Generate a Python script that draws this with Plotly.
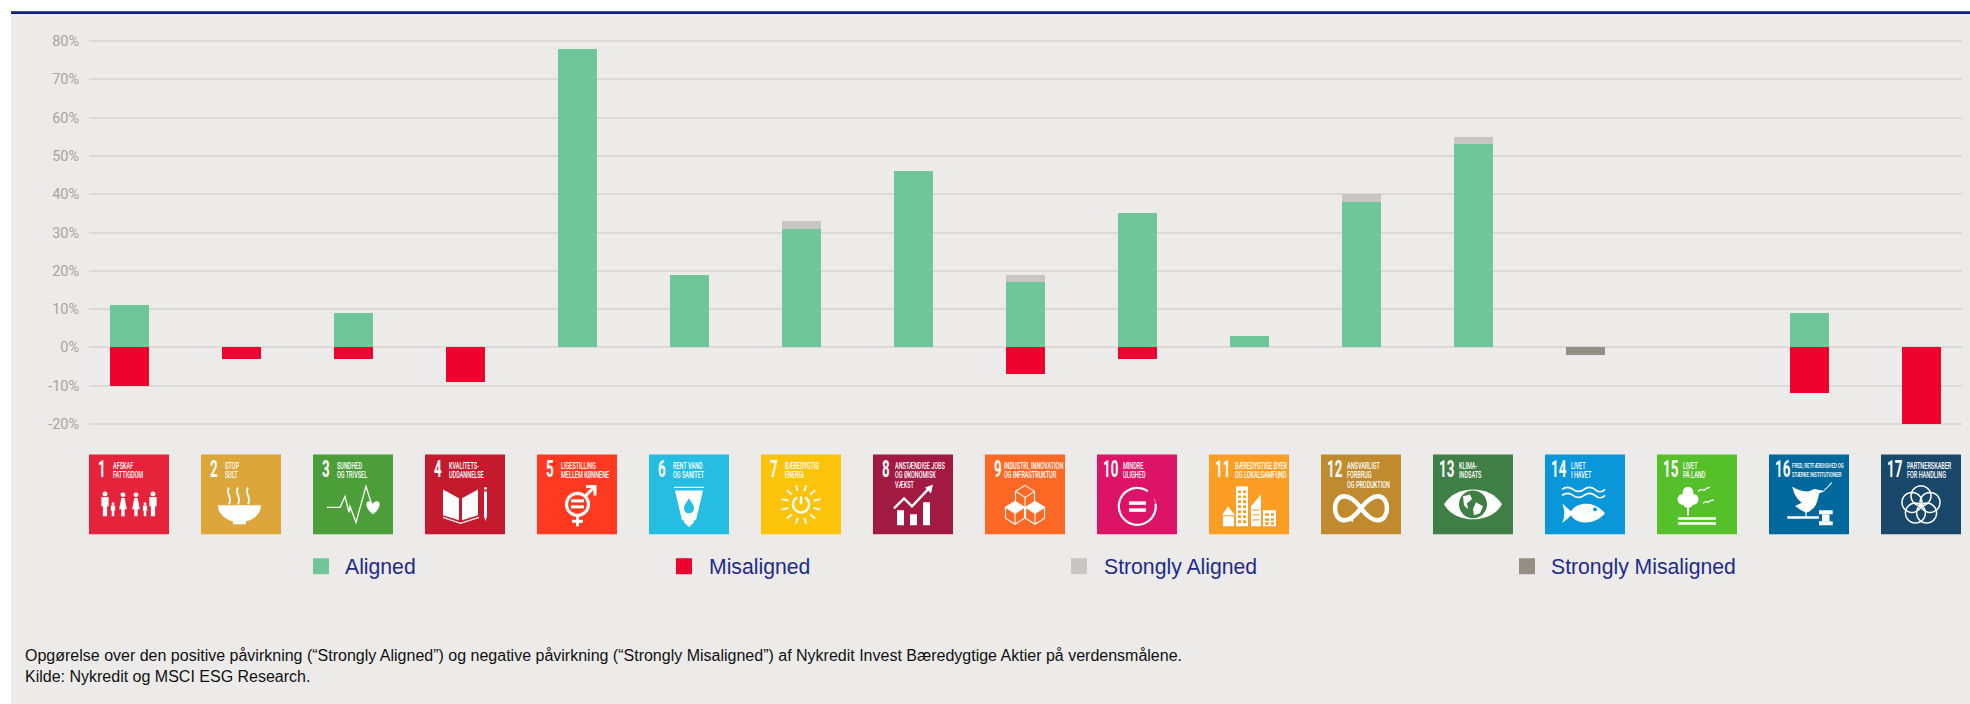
import math, re
import plotly.graph_objects as go

categories = [str(i) for i in range(1, 18)]
aligned = [11, 0, 9, 0, 78, 19, 31, 46, 17, 35, 3, 38, 53, 0, 0, 9, 0]
misaligned = [-10, -3, -3, -9, 0, 0, 0, 0, -7, -3, 0, 0, 0, 0, 0, -12, -20]
strongly_aligned = [0, 0, 0, 0, 0, 0, 2, 0, 2, 0, 0, 2, 2, 0, 0, 0, 0]
strongly_misaligned = [0, 0, 0, 0, 0, 0, 0, 0, 0, 0, 0, 0, 0, -2, 0, 0, 0]
series_names = ["Aligned", "Misaligned", "Strongly Aligned", "Strongly Misaligned"]
series_colors = ["#6FC698", "#EE0230", "#C8C6C3", "#958E85"]
tick_values = [-20, -10, 0, 10, 20, 30, 40, 50, 60, 70, 80]
tick_labels = [f"{v}%" for v in tick_values]
goal_titles = [
    ["AFSKAF", "FATTIGDOM"], ["STOP", "SULT"], ["SUNDHED", "OG TRIVSEL"],
    ["KVALITETS-", "UDDANNELSE"], ["LIGESTILLING", "MELLEM KØNNENE"], ["RENT VAND", "OG SANITET"],
    ["BÆREDYGTIG", "ENERGI"], ["ANSTÆNDIGE JOBS", "OG ØKONOMISK", "VÆKST"],
    ["INDUSTRI, INNOVATION", "OG INFRASTRUKTUR"], ["MINDRE", "ULIGHED"],
    ["BÆREDYGTIGE BYER", "OG LOKALSAMFUND"], ["ANSVARLIGT", "FORBRUG", "OG PRODUKTION"],
    ["KLIMA-", "INDSATS"], ["LIVET", "I HAVET"], ["LIVET", "PÅ LAND"],
    ["FRED, RETFÆRDIGHED OG", "STÆRKE INSTITUTIONER"], ["PARTNERSKABER", "FOR HANDLING"],
]
goal_colors = ["#E5243B", "#DDA63A", "#4C9F38", "#C5192D", "#FF3A21", "#26BDE2", "#FCC30B", "#A21942",
               "#FD6925", "#DD1367", "#FD9D24", "#BF8B2E", "#3F7E44", "#0A97D9", "#56C02B", "#00689D", "#19486A"]
footnotes = [
    "Opgørelse over den positive påvirkning (“Strongly Aligned”) og negative påvirkning (“Strongly Misaligned”) af Nykredit Invest Bæredygtige Aktier på verdensmålene.",
    "Kilde: Nykredit og MSCI ESG Research.",
]

W, H = 1970, 704
L, R, T, B = 89, 1962, 21.5, 443.5


def px(x):
    return (x - L) / (R - L)


def py(y):
    return (B - y) / (B - T)


def poly(points, close=True):
    s = "M" + " L".join(f"{x:.2f},{y:.2f}" for x, y in points)
    return s + (" Z" if close else "")


def circle(cx, cy, r, n=32):
    return poly([(cx + r * math.cos(2 * math.pi * k / n), cy + r * math.sin(2 * math.pi * k / n)) for k in range(n)])


def arc(cx, cy, r, a0, a1, n=32):
    return poly([(cx + r * math.cos(math.radians(a0 + (a1 - a0) * k / n)),
                  cy + r * math.sin(math.radians(a0 + (a1 - a0) * k / n))) for k in range(n + 1)], close=False)


def rect(x0, y0, x1, y1):
    return poly([(x0, y0), (x1, y0), (x1, y1), (x0, y1)])


def person(cx, top, h, w, skirt=False):
    head = circle(cx, top + h * 0.1, h * 0.1, 12)
    if skirt:
        body = poly([(cx - w * .3, top + h * .23), (cx + w * .3, top + h * .23), (cx + w * .7, top + h * .7),
                     (cx + w * .3, top + h * .7), (cx + w * .3, top + h), (cx - w * .3, top + h),
                     (cx - w * .3, top + h * .7), (cx - w * .7, top + h * .7)])
    else:
        body = poly([(cx - w * .6, top + h * .23), (cx + w * .6, top + h * .23), (cx + w * .6, top + h * .6),
                     (cx + w * .35, top + h * .6), (cx + w * .35, top + h), (cx - w * .35, top + h),
                     (cx - w * .35, top + h * .6), (cx - w * .6, top + h * .6)])
    return [("f", head, 0), ("f", body, 0)]


def glyph(i):
    F = "f"; S = "s"
    if i == 1:
        out = []
        for c in (16, 64):
            out += person(c, 37, 25, 6)
        for c in (34, 47):
            out += person(c, 38, 24, 5.5, True)
        for c in (24, 56):
            out += person(c, 48, 14, 3.6)
        return out
    if i == 2:
        bowl = poly([(17, 51), (60, 51)] + [(38.5 + 21.5 * math.cos(math.radians(a)), 51 + 17 * math.sin(math.radians(a))) for a in range(10, 171, 10)])
        st = []
        for x in (28, 37, 47):
            st.append((S, f"M{x},33 C{x-4},39 {x+4},43 {x},50", 1.8))
        return [(F, bowl, 0), (F, rect(32, 66, 45, 70), 0)] + st
    if i == 3:
        line = poly([(14, 53), (27, 53), (32, 42), (36, 58), (37, 52), (43, 68), (53, 32), (58, 48)], False)
        heart = "M60,60 C52,54 52,47 56,47 C58,47 60,49 60,50 C60,49 62,47 64,47 C68,47 68,54 60,60 Z"
        return [(S, line, 1.3), (F, heart, 0)]
    if i == 4:
        return [(F, poly([(18, 35), (34, 44), (34, 66), (18, 61)]), 0),
                (F, poly([(37, 44), (53, 35), (53, 61), (37, 66)]), 0),
                (S, poly([(18, 63), (35.5, 69), (54, 63)], False), 1.3),
                (F, poly([(59, 37), (62, 37), (62, 62), (60.5, 67), (59, 62)]) + " " + circle(60.5, 34, 1.5, 10), 0)]
    if i == 5:
        return [(S, circle(40.5, 50, 11), 3.2),
                (S, poly([(48, 42), (58, 32)], False), 3),
                (S, poly([(49, 32), (58, 32), (58, 41)], False), 3),
                (S, poly([(40.5, 61), (40.5, 72)], False), 3),
                (S, poly([(35, 67), (46, 67)], False), 3),
                (F, rect(34, 45, 47, 48), 0), (F, rect(34, 51, 47, 54), 0)]
    if i == 6:
        return [(S, poly([(25, 33), (55, 33)], False), 1.2),
                (F, poly([(26, 36), (54, 36), (47, 66), (45, 66), (45, 68), (40, 73), (35, 68), (35, 66), (33, 66)]), 0),
                ("b", "M40,44 C37,49 35,51 35,54 C35,57 37,59 40,59 C43,59 45,57 45,54 C45,51 43,49 40,44 Z", 0)]
    if i == 7:
        out = []
        for k in range(12):
            a = math.radians(k * 30 + 15)
            out.append((S, poly([(40 + 13 * math.cos(a), 50 + 14 * math.sin(a)), (40 + 20 * math.cos(a), 50 + 20 * math.sin(a))], False), 1.8))
        out.append((S, arc(40, 50, 8, -60, 240), 2.4))
        out.append((S, poly([(40, 42), (40, 50)], False), 2.4))
        return out
    if i == 8:
        return [(F, rect(24, 56, 31, 71) + " " + rect(37, 60, 44, 71) + " " + rect(50, 48, 57, 71), 0),
                (S, poly([(21, 54), (31, 44), (39, 52), (56, 34)], False), 2.4),
                (F, poly([(52, 33), (60, 30), (58, 39)]), 0)]
    if i == 9:
        out = []
        for cx, cy in ((40, 37), (30, 53), (50, 53)):
            s = 9.5
            out.append((S, poly([(cx, cy - 6), (cx + s, cy), (cx, cy + 6), (cx - s, cy)]), 1.1))
            out.append((S, poly([(cx - s, cy), (cx - s, cy + 11), (cx, cy + 17), (cx + s, cy + 11), (cx + s, cy)], False), 1.1))
            out.append((S, poly([(cx, cy + 6), (cx, cy + 17)], False), 1.1))
        out.append((F, poly([(30, 47), (39.5, 53), (30, 59), (20.5, 53)]), 0))
        out.append((F, poly([(50, 47), (59.5, 53), (50, 59), (40.5, 53)]), 0))
        return out
    if i == 10:
        return [(S, arc(40.3, 52, 18.5, -8, 305), 2.2), (S, arc(40.3, 52, 18.5, -25, 50, 12), 0.5),
                (F, rect(32, 47, 49, 50.5), 0), (F, rect(32, 54, 49, 57.5), 0)]
    if i == 11:
        out = [(F, rect(27, 32, 39, 72) + " " + poly([(13, 61), (19, 52), (26, 61)]) + " " + rect(14, 62, 25, 72), 0),
               (F, poly([(42, 72), (42, 52), (52, 40), (52, 72)]) + " " + rect(54, 56, 67, 72), 0)]
        for y in (36, 41, 46, 51, 56, 61, 66):
            out.append(("b", rect(29, y, 32, y + 2.6) + " " + rect(34, y, 37, y + 2.6), 0))
        for y in (59, 64, 68):
            out.append(("b", rect(56, y, 60, y + 2.4) + " " + rect(62, y, 65, y + 2.4), 0))
        for y in (55, 60, 65):
            out.append(("b", rect(44, y, 50, y + 1.2), 0))
        return out
    if i == 12:
        return [(S, "M40,54 C33,44 28,42 23,42 C17,42 14,48 14,54 C14,60 17,66 23,66 C29,66 34,62 40,54 C46,46 51,42 57,42 C63,42 66,48 66,54 C66,60 63,66 57,66 C51,66 46,62 40,54", 4.5),
                (F, poly([(33, 60), (32, 68), (25, 64)]), 0)]
    if i == 13:
        return [(F, "M11,50 C22,30 58,30 69,50 C58,70 22,70 11,50 Z", 0),
                ("b", circle(40, 50, 14), 0),
                (F, poly([(30, 42), (37, 40), (39, 45), (34, 49), (35, 55), (31, 51)]) + " " + poly([(43, 48), (50, 52), (47, 59), (41, 61), (40, 55)]), 0)]
    if i == 14:
        wave = lambda y: f"M17,{y} C21,{y-3} 24,{y-3} 28,{y} C32,{y+3} 35,{y+3} 39,{y} C43,{y-3} 46,{y-3} 50,{y} C53,{y+3} 57,{y+3} 60,{y}"
        return [(S, wave(35), 1.8), (S, wave(41), 1.8),
                (F, "M17,49 C20,52 24,55 26,57 C32,47 50,46 60,59 C50,71 32,71 26,61 C24,64 20,66 17,69 C20,63 20,55 17,49 Z", 0),
                ("b", circle(50, 55, 2, 10), 0)]
    if i == 15:
        return [(F, circle(31, 38, 5.5, 14), 0), (F, circle(26, 45, 5.5, 14), 0), (F, circle(36, 45, 5.5, 14), 0),
                (F, circle(31, 48, 5.5, 14), 0), (F, rect(30, 52, 32, 61), 0),
                (F, rect(21, 63, 59, 65.5) + " " + rect(21, 68, 59, 70.5), 0),
                (S, "M41,37 Q44,34 47,36 Q50,33 53,33", 1.1), (S, "M46,49 Q49,46 51,48 Q54,45 57,46", 1.1)]
    if i == 16:
        return [(F, "M23.3,32.3 C28,35 35,38 41,36.7 C44,35 46,34 47.7,35 L56,36.7 L50,39 C49,46 47,52 43,55 C40,58 38,58.5 36,58 C32,56 29,54 26,51.7 L32.7,48.3 C27,44 24.5,38 23.3,32.3 Z", 0),
                (S, "M55,36 C58,34 60,31 62.7,28.3", 1.1),
                (S, poly([(37, 57), (37, 63)], False), 1.2),
                (F, rect(18.3, 62, 50, 64.5), 0), (F, rect(50, 56, 63.7, 60) + " " + rect(50, 67, 63.7, 71), 0), (F, rect(53, 60, 60.5, 67), 0)]
    if i == 17:
        out = []
        for k in range(5):
            a = math.radians(-90 + 72 * k)
            out.append((S, circle(40 + 9.5 * math.cos(a), 51 + 9.5 * math.sin(a), 10), 1.5))
        return out
    return []


def map_path(path, ox, oy):
    def sub(m):
        return f"{px(float(m.group(1)) + ox):.6f},{py(float(m.group(2)) + oy):.6f}"
    return re.sub(r"(-?\d+(?:\.\d+)?),(-?\d+(?:\.\d+)?)", sub, path)


fig = go.Figure()
for name, vals, col in zip(series_names, [aligned, misaligned, strongly_aligned, strongly_misaligned], series_colors):
    fig.add_bar(x=list(range(17)), y=vals, name=name, marker=dict(color=col, line_width=0), width=0.344, showlegend=False)

shapes = [
    dict(type="rect", xref="paper", yref="paper", x0=px(11), x1=px(W + 2), y0=py(12), y1=py(H + 2),
         fillcolor="#ECEBE9", line_width=0, layer="below"),
    dict(type="rect", xref="paper", yref="paper", x0=px(11), x1=px(W + 2), y0=py(10.6), y1=py(13.4),
         fillcolor="#0F1F7A", line_width=0, layer="below"),
]
ann = []


def text(x, y, s, size, color, family, weight=None):
    f = dict(size=size, color=color, family=family)
    if weight:
        f["weight"] = weight
    ann.append(dict(xref="paper", yref="paper", x=px(x), y=py(y), text=s, showarrow=False, xanchor="left",
                    yanchor="middle", font=f, align="left", borderpad=0, borderwidth=0))


for n in range(17):
    ox, oy = 89 + 112 * n, 455
    col = goal_colors[n]
    shapes.append(dict(type="rect", xref="paper", yref="paper", x0=px(ox), x1=px(ox + 80), y0=py(oy), y1=py(oy + 80),
                       fillcolor=col, line_width=0))
    for kind, path, w in glyph(n + 1):
        d = dict(type="path", xref="paper", yref="paper", path=map_path(path, ox, oy))
        if kind == "f":
            d.update(fillcolor="#FFFFFF", line_width=0)
        elif kind == "b":
            d.update(fillcolor=col, line_width=0)
        else:
            d.update(fillcolor="rgba(0,0,0,0)", line=dict(color="#FFFFFF", width=w))
        shapes.append(d)
    text(ox + (6 if n >= 9 else 8.5), oy + 15.5, categories[n], 23, "#FFFFFF", "Roboto", weight=700)
    tx = ox + (24 if n < 9 else 26)
    if n == 7:
        tx = ox + 21.5
    if n == 8:
        tx = ox + 18.5
    if n == 15:
        tx = ox + 23
    size = 7.5 if n == 15 else 9.5
    for k, line in enumerate(goal_titles[n]):
        text(tx, oy + 11 + k * 9.5, line, size, "#FFFFFF", "Roboto", weight=500)

legend_marks = [313, 676, 1071, 1519]
legend_texts = [345, 709, 1104, 1551]
for name, col, mx, tx in zip(series_names, series_colors, legend_marks, legend_texts):
    shapes.append(dict(type="rect", xref="paper", yref="paper", x0=px(mx), x1=px(mx + 16), y0=py(559), y1=py(575),
                       fillcolor=col, line_width=0))
    text(tx, 568, name, 21.2, "#1F2A8C", "Liberation Sans")

text(25, 657, footnotes[0], 16, "#111111", "Liberation Sans")
text(25, 678, footnotes[1], 16, "#111111", "Liberation Sans")

fig.update_layout(
    width=W, height=H, barmode="relative", bargap=0,
    margin=dict(l=L, r=W - R, t=T, b=H - B, autoexpand=False),
    paper_bgcolor="#FFFFFF", plot_bgcolor="rgba(0,0,0,0)",
    shapes=shapes, annotations=ann,
    xaxis=dict(range=[-0.3616, 16.36], showticklabels=False, showgrid=False, zeroline=False, showline=False, ticks=""),
    yaxis=dict(range=[-25, 85], tickvals=tick_values, ticktext=tick_labels, showgrid=True, gridcolor="#DAD9D6",
               gridwidth=1.5, zeroline=False, showline=False, ticks="outside", ticklen=6, tickcolor="rgba(0,0,0,0)",
               tickfont=dict(family="Roboto", size=14.5, color="#A8A39D")),
)
POST = """
document.body.style.margin='0';document.documentElement.style.overflow='hidden';
(function fit(){
  var els=document.querySelectorAll('.annotation-text');
  if(!els.length){setTimeout(fit,30);return;}
  els.forEach(function(el){
    if(el.style.fill!=='rgb(255, 255, 255)'){return;}
    var b=el.getBBox();
    var f=0.58;
    el.setAttribute('transform','translate('+b.x.toFixed(2)+',0) scale('+f+',1) translate('+(-b.x).toFixed(2)+',0)');
    var r=el.parentNode.querySelectorAll('rect');
    if(!r.length && el.parentNode.parentNode){r=el.parentNode.parentNode.querySelectorAll('rect');}
    r.forEach(function(q){q.setAttribute('width',(b.width*f).toFixed(2));});
  });
})();
"""
fig.write_html("out.html", post_script=POST, config={"displayModeBar": False})
